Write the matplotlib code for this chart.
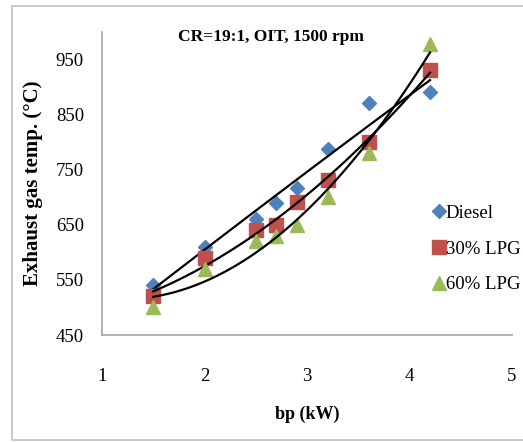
import numpy as np
import matplotlib
matplotlib.use("Agg")
import matplotlib.pyplot as plt
from matplotlib.patches import Rectangle

# data
bp = [1.5, 2.0, 2.5, 2.7, 2.9, 3.2, 3.6, 4.2]
diesel = [540, 610, 660, 690, 716, 787, 872, 891]
lpg30 = [520, 590, 640, 650, 692, 732, 801, 931]
lpg60 = [500, 570, 620, 630, 650, 701, 781, 979]

series_names = ['Diesel', '30% LPG', '60% LPG']
colors = ['#4F81BD', '#C0504D', '#9BBB59']
markers = ['D', 's', '^']
msizes = [7.5, 9.5, 9.5]

plt.rcParams['font.family'] = ['Liberation Serif', 'DejaVu Serif']

fig = plt.figure(figsize=(5.23, 4.42), dpi=100)
ax = fig.add_axes([102/523, 1-335/442, 410/523, 303/442])

# chart area border
fig.patches.append(Rectangle((12/523, 2/442), 1.2, 1-8/442, transform=fig.transFigure,
                             fill=False, edgecolor='#BFBFBF', linewidth=1.2))

xx = np.linspace(1.5, 4.2, 100)
for ys, name, c, m, ms in zip([diesel, lpg30, lpg60], series_names, colors, markers, msizes):
    ax.plot(bp, ys, linestyle='none', marker=m, color=c, markersize=ms, label=name)
    coef = np.polyfit(bp, ys, 2)  # excel style 2nd order trendline
    ax.plot(xx, np.polyval(coef, xx), color='black', linewidth=1.6)

ax.set_xlim(1, 5)
ax.set_ylim(450, 1000)
ax.set_xticks([1, 2, 3, 4, 5])
ax.set_yticks([450, 550, 650, 750, 850, 950])
ax.tick_params(length=0, labelsize=13.5)
ax.tick_params(axis='x', pad=24)
ax.tick_params(axis='y', pad=13)
for s in ['top', 'right']:
    ax.spines[s].set_visible(False)
for s in ['left', 'bottom']:
    ax.spines[s].set_color('#A6A6A6')
    ax.spines[s].set_linewidth(1.2)

ax.set_xlabel('bp (kW)', fontsize=13, fontweight='bold', labelpad=15)
ax.set_ylabel('Exhaust gas temp. (°C)', fontsize=15, fontweight='bold', labelpad=9)
ax.text(0.412, 0.982, 'CR=19:1, OIT, 1500 rpm', transform=ax.transAxes, ha='center', va='center',
        fontsize=12.5, fontweight='bold')

ax.legend(loc='upper left', bbox_to_anchor=(425/523, 1-197/442), bbox_transform=fig.transFigure,
          frameon=False, fontsize=13.5, handletextpad=0.0, labelspacing=1.0,
          handlelength=0.7, borderaxespad=0)

fig.savefig('out.png', dpi=100)
